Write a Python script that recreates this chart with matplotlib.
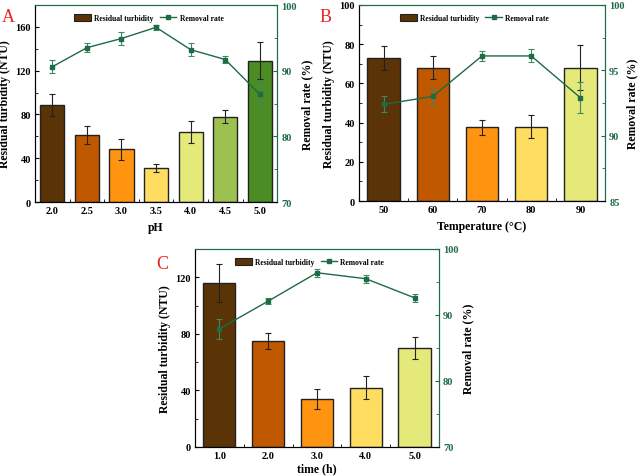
import numpy as np
import matplotlib
matplotlib.use("Agg")
import matplotlib.pyplot as plt
from matplotlib.ticker import MultipleLocator, FixedLocator

plt.rcParams['font.family'] = ['Liberation Serif', 'DejaVu Serif']
plt.rcParams['font.weight'] = 'bold'

# ---- data ----
ph_labels = ["2.0", "2.5", "3.0", "3.5", "4.0", "4.5", "5.0"]
ph_turb = [89, 61, 48, 31, 64, 78, 129]
ph_turb_err = [10, 8, 10, 4, 10, 6, 17]
ph_rate = [90.6, 93.5, 94.9, 96.6, 93.2, 91.7, 86.4]
ph_rate_err = [1.0, 0.7, 1.0, 0.4, 1.0, 0.5, 1.8]

temp_labels = ["50", "60", "70", "80", "90"]
temp_turb = [73, 68, 37.5, 38, 68]
temp_turb_err = [6, 6, 4, 6, 11.5]
temp_rate = [92.4, 93.0, 96.1, 96.1, 92.9]
temp_rate_err = [0.6, 0.6, 0.4, 0.5, 1.2]

time_labels = ["1.0", "2.0", "3.0", "4.0", "5.0"]
time_turb = [116, 75, 34, 42, 70]
time_turb_err = [13.5, 5.5, 7, 8, 8]
time_rate = [87.9, 92.1, 96.4, 95.5, 92.6]
time_rate_err = [1.5, 0.5, 0.6, 0.6, 0.6]

ph_colors = ['#5a3406', '#c05800', '#ff9410', '#ffdd60', '#e5e97a', '#9cc150', '#4c8c25']
five_colors = ['#5a3406', '#c05800', '#ff9410', '#ffdd60', '#e5e97a']
green = '#1f6b45'


def panel(fig, rect, labels, turb, turb_err, rate, rate_err, colors,
          ylim, ymaj, ymin, rlim, rmaj, rmin, xlabel, width, xpad=4, rpad=3):
    ax = fig.add_axes(rect)
    x = np.arange(len(labels))
    ax.bar(x, turb, width=width, color=colors, edgecolor='#222222', linewidth=1.0, zorder=2)
    ax.errorbar(x, turb, yerr=turb_err, fmt='none', ecolor='#222222', elinewidth=0.8,
                capsize=2.5, capthick=0.8, zorder=3)
    ax.set_xlim(-0.5, len(labels) - 0.5)
    ax.set_ylim(*ylim)
    ax.set_xticks(x)
    ax.set_xticklabels(labels)
    ax.xaxis.set_minor_locator(FixedLocator(x[:-1] + 0.5))
    ax.yaxis.set_major_locator(MultipleLocator(ymaj))
    ax.yaxis.set_minor_locator(MultipleLocator(ymin))
    ax.tick_params(which='both', direction='in', labelsize=7.5, top=False, right=False, pad=3)
    ax.tick_params(which='major', length=3)
    ax.tick_params(which='minor', length=2)
    ax.set_xlabel(xlabel, fontsize=8.5, fontweight='bold', labelpad=xpad)
    ax.set_ylabel("Residual turbidity (NTU)", fontsize=8.5, fontweight='bold', labelpad=3)
    ax.spines['top'].set_color(green)
    ax.spines['right'].set_color(green)

    ax2 = ax.twinx()
    ax2.errorbar(x, rate, yerr=rate_err, color=green, marker='s', markersize=3.5,
                 linewidth=1.0, elinewidth=0.8, capsize=2.5, capthick=0.8,
                 ecolor='#3b8a63', zorder=4)
    ax2.set_ylim(*rlim)
    ax2.yaxis.set_major_locator(MultipleLocator(rmaj))
    ax2.yaxis.set_minor_locator(MultipleLocator(rmin))
    ax2.tick_params(which='both', direction='in', labelsize=7.5, colors=green, pad=3)
    ax2.tick_params(which='major', length=3)
    ax2.tick_params(which='minor', length=2)
    ax2.spines['right'].set_color(green)
    ax2.spines['top'].set_color(green)
    ax2.spines['left'].set_color('black')
    ax2.set_ylabel("Removal rate (%)", fontsize=8.5, fontweight='bold', color='black', labelpad=rpad)
    for lab in ax.get_xticklabels() + ax.get_yticklabels() + ax2.get_yticklabels():
        lab.set_fontweight('bold')

    h1 = plt.Rectangle((0, 0), 1, 1, facecolor='#5a3406', edgecolor='#222222', linewidth=0.8)
    h2 = plt.Line2D([], [], color=green, marker='s', markersize=2.5, linewidth=1.0)
    ax2.legend([h1, h2], ["Residual turbidity", "Removal rate"], loc='upper center',
               bbox_to_anchor=(0.47, 0.99), ncol=2, frameon=False,
               prop={'size': 5.5, 'weight': 'bold'}, handlelength=2.2,
               handleheight=1.0, columnspacing=0.8, handletextpad=0.4)
    return ax, ax2


fig = plt.figure(figsize=(6.38, 4.77), dpi=100)

panel(fig, [0.0549, 0.5744, 0.3794, 0.413], ph_labels, ph_turb, ph_turb_err,
      ph_rate, ph_rate_err, ph_colors, (0, 180), 40, 20, (70, 100), 10, 5, "pH", 0.7)
panel(fig, [0.5627, 0.5765, 0.3856, 0.411], temp_labels, temp_turb, temp_turb_err,
      temp_rate, temp_rate_err, five_colors, (0, 100), 20, 10, (85, 100), 5, 2.5,
      "Temperature (°C)", 0.66, rpad=1)
panel(fig, [0.3056, 0.0608, 0.3824, 0.4151], time_labels, time_turb, time_turb_err,
      time_rate, time_rate_err, five_colors, (0, 140), 40, 20, (70, 100), 10, 5,
      "time (h)", 0.66, xpad=1.5)

fig.text(0.003, 0.953, "A", color='#e8251f', fontsize=13, fontweight='normal')
fig.text(0.501, 0.953, "B", color='#e8251f', fontsize=13, fontweight='normal')
fig.text(0.245, 0.437, "C", color='#e8251f', fontsize=13, fontweight='normal')

fig.savefig("out.png", dpi=100)
